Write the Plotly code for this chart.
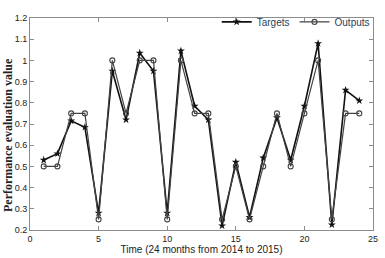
import plotly.graph_objects as go

months = list(range(1, 25))
targets = [0.53, 0.56, 0.715, 0.685, 0.28, 0.95, 0.72, 1.035, 0.95, 0.28, 1.045, 0.785,
           0.72, 0.22, 0.52, 0.26, 0.54, 0.73, 0.53, 0.785, 1.08, 0.225, 0.86, 0.81]
outputs = [0.5, 0.5, 0.75, 0.75, 0.25, 1.0, 0.75, 1.0, 1.0, 0.25, 1.0, 0.75,
           0.75, 0.25, 0.5, 0.25, 0.5, 0.75, 0.5, 0.75, 1.0, 0.25, 0.75, 0.75]

fig = go.Figure()
fig.add_trace(go.Scatter(x=months, y=targets, name="Targets", mode="lines+markers",
                         line=dict(color="#111111", width=1.6),
                         marker=dict(symbol="star", size=6, color="#111111")))
fig.add_trace(go.Scatter(x=months, y=outputs, name="Outputs", mode="lines+markers",
                         line=dict(color="#444444", width=1.2),
                         marker=dict(symbol="circle-open", size=5, color="#444444",
                                     line=dict(width=1.1))))

axis_common = dict(showgrid=False, zeroline=False, showline=True, linecolor="#8c8c8c",
                   linewidth=1, mirror="ticks", ticks="inside", ticklen=4,
                   tickcolor="#8c8c8c",
                   tickfont=dict(family="Liberation Sans, Arial", size=9, color="#222"))

fig.update_layout(
    width=385, height=258,
    margin=dict(l=30, r=7, t=7, b=20),
    paper_bgcolor="white", plot_bgcolor="white",
    xaxis=dict(range=[0, 25], tickvals=[0, 5, 10, 15, 20, 25],
               title=dict(text="Time (24 months from 2014 to 2015)", standoff=0,
                          font=dict(family="Liberation Sans, Arial", size=10, color="#222")),
               **axis_common),
    yaxis=dict(range=[0.2, 1.2], dtick=0.1, tick0=0.2, **axis_common),
    legend=dict(orientation="h", x=1.005, y=1.05, xanchor="right", yanchor="top",
                bgcolor="rgba(255,255,255,0)", font=dict(family="Liberation Sans, Arial", size=10),
                itemwidth=30, tracegroupgap=0),
    showlegend=True,
    annotations=[dict(text="<b>Performance evaluation value</b>", textangle=-90,
                      xref="paper", yref="paper", x=-0.066, y=0.45,
                      xanchor="center", yanchor="middle", showarrow=False,
                      font=dict(family="Liberation Serif, Times New Roman", size=12, color="#222"))],
)

fig.write_html("out.html")
